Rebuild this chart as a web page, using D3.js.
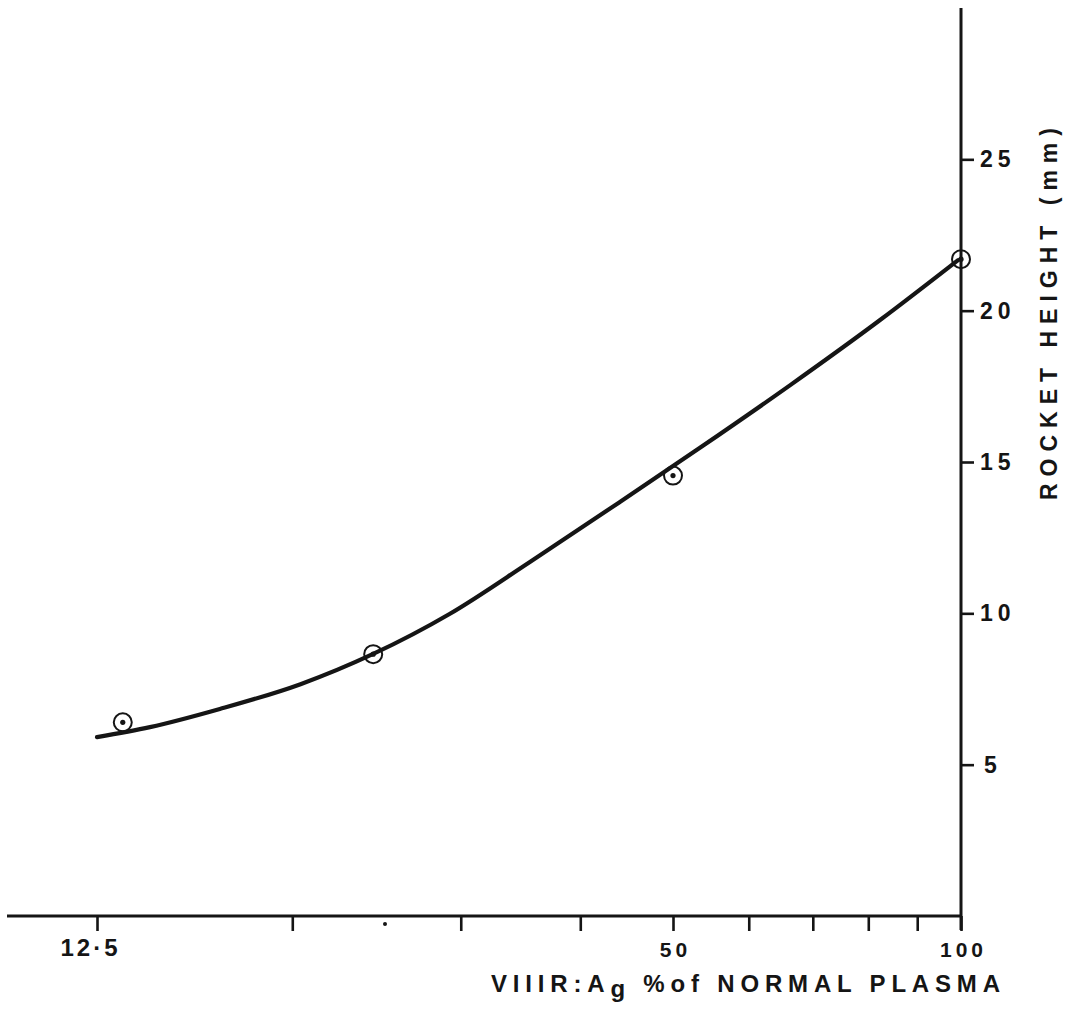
<!DOCTYPE html>
<html>
<head>
<meta charset="utf-8">
<script src="https://cdn.jsdelivr.net/npm/d3@7"></script>
<style>
  html, body { margin: 0; padding: 0; background: #fff; }
  svg { display: block; }
  text { font-family: "Liberation Sans", Arial, sans-serif; font-weight: bold; fill: #151515; }
</style>
</head>
<body>
<svg id="chart" width="1070" height="1009"></svg>
<script>
// Concentration (% of normal plasma) on a log axis, rocket height in mm
const xTickValues = [12.5, 20, 30, 40, 50, 60, 70, 80, 90, 100];
const xTickLabels = { 12.5: "12·5", 50: "50", 100: "100" };
const yTickValues = [5, 10, 15, 20, 25];

// Measured standards
const pointX = [13.3, 24.3, 50, 100];
const pointY = [6.4, 8.65, 14.55, 21.7];

// Hand-fitted standard curve
const curveX = [12.5, 14.2, 16.8, 20.4, 24.3, 29.2, 35.4, 44.0, 53.3, 66.3, 82.3, 99.3];
const curveY = [5.91, 6.24, 6.84, 7.66, 8.66, 9.98, 11.69, 13.68, 15.46, 17.54, 19.69, 21.67];

const ink = "#151515";
const svg = d3.select("#chart");

const x = d3.scaleLog().domain([12.5, 100]).range([97, 961]);
const y = d3.scaleLinear().domain([0, 30]).range([916, 8]);

const axisY0 = y(0);
const axisX1 = x(100);

// x axis
const gx = svg.append("g").attr("transform", `translate(0,${axisY0})`)
  .call(d3.axisBottom(x)
    .tickValues(xTickValues)
    .tickSize(15)
    .tickPadding(8)
    .tickFormat(d => xTickLabels[d] || ""));
gx.select(".domain").remove();
gx.selectAll(".tick line").attr("stroke", ink).attr("stroke-width", 2.6);
gx.selectAll(".tick text")
  .attr("fill", ink)
  .style("font-size", d => d === 12.5 ? "24px" : "21px")
  .style("letter-spacing", d => d === 12.5 ? "3px" : "4px")
  .attr("dx", d => d === 12.5 ? -7 : 2)
  .attr("dy", d => d === 12.5 ? "0.72em" : "0.85em");
svg.append("line")
  .attr("x1", 7).attr("x2", axisX1)
  .attr("y1", axisY0).attr("y2", axisY0)
  .attr("stroke", ink).attr("stroke-width", 3);
// small mark at 25 %
svg.append("circle")
  .attr("cx", x(25)).attr("cy", axisY0 + 8).attr("r", 2)
  .attr("fill", ink);

// y axis on the right
const gy = svg.append("g").attr("transform", `translate(${axisX1},0)`)
  .call(d3.axisRight(y)
    .tickValues(yTickValues)
    .tickSize(13)
    .tickPadding(6));
gy.select(".domain").remove();
gy.selectAll(".tick line").attr("stroke", ink).attr("stroke-width", 2.6);
gy.selectAll(".tick text")
  .attr("fill", ink)
  .style("font-size", "23px")
  .style("letter-spacing", "5px")
  .attr("dx", d => d === 5 ? 4 : 0);
svg.append("line")
  .attr("x1", axisX1).attr("x2", axisX1)
  .attr("y1", y(30)).attr("y2", axisY0 + 14)
  .attr("stroke", ink).attr("stroke-width", 3);

// standard curve
const curveData = curveX.map((v, i) => [v, curveY[i]]);
svg.append("path")
  .datum(curveData)
  .attr("fill", "none")
  .attr("stroke", ink)
  .attr("stroke-width", 4.2)
  .attr("stroke-linecap", "round")
  .attr("d", d3.line().x(d => x(d[0])).y(d => y(d[1])).curve(d3.curveMonotoneX));

// plotted points: ringed dots
const pts = pointX.map((v, i) => [v, pointY[i]]);
const pg = svg.append("g").selectAll("g").data(pts).join("g")
  .attr("transform", d => `translate(${x(d[0])},${y(d[1])})`);
pg.append("circle").attr("r", 9).attr("fill", "none").attr("stroke", ink).attr("stroke-width", 2);
pg.append("circle").attr("r", 2.6).attr("fill", ink);

// axis titles
const xt = svg.append("text")
  .attr("x", 491).attr("y", 992)
  .attr("textLength", 509)
  .attr("lengthAdjust", "spacing")
  .style("font-size", "24px");
xt.append("tspan").text("VIIIR:A");
xt.append("tspan").attr("dy", 5).text("g");
xt.append("tspan").attr("dy", -5).text("  %of  NORMAL  PLASMA");

svg.append("text")
  .attr("transform", `translate(1057,500) rotate(-90)`)
  .attr("textLength", 372)
  .attr("lengthAdjust", "spacing")
  .style("font-size", "23px")
  .text("ROCKET HEIGHT (mm)");
</script>
</body>
</html>
